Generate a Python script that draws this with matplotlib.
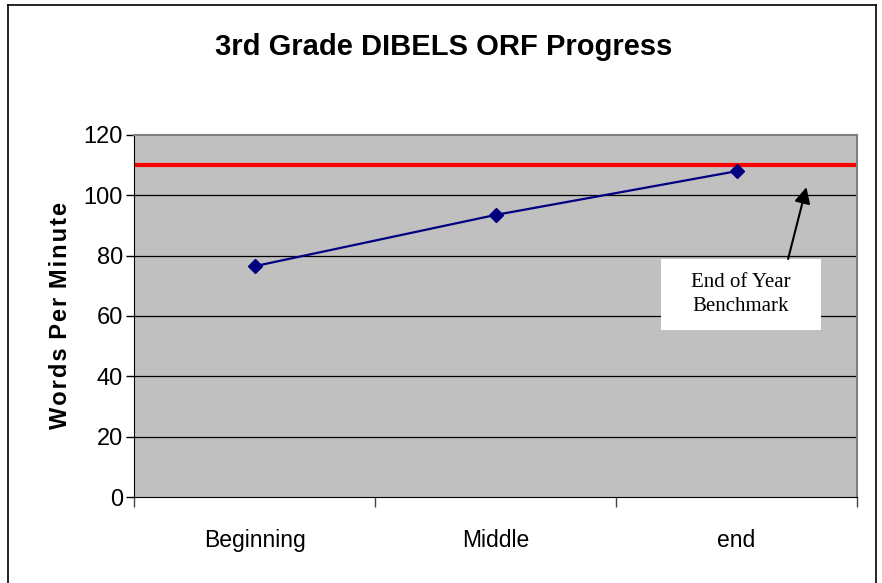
import matplotlib
matplotlib.use("Agg")
import matplotlib.pyplot as plt
from matplotlib.lines import Line2D
from matplotlib.patches import Rectangle

# data
periods = ["Beginning", "Middle", "end"]
wpm = [76.5, 93.5, 108]
benchmark = 110
y_ticks = [0, 20, 40, 60, 80, 100, 120]

plt.rcParams['font.family'] = ['Liberation Sans', 'DejaVu Sans']

fig = plt.figure(figsize=(8.82, 5.83), dpi=100)
ax = fig.add_axes([134 / 882, 1 - 497 / 583, 723 / 882, 362 / 583])

ax.set_facecolor("#C0C0C0")
x = list(range(len(periods)))

# gridlines
for t in y_ticks[1:-1]:
    ax.axhline(t, color="black", lw=0.9, zorder=1)

ax.axhline(benchmark, color="#FF0000", lw=3, zorder=2)
ax.plot(x, wpm, color="#000080", lw=1.6, marker="D", markersize=7,
        markerfacecolor="#000080", markeredgecolor="#000080", zorder=3)

ax.set_xlim(-0.5, len(periods) - 0.5)
ax.set_ylim(0, 120)
ax.set_yticks(y_ticks)
ax.set_yticklabels([str(t) for t in y_ticks], fontsize=17)
ax.tick_params(axis="y", direction="out", length=6, width=1, pad=2)

# category labels between ticks
ax.set_xticks([-0.5, 0.5, 1.5, 2.5])
ax.set_xticklabels([])
ax.tick_params(axis="x", direction="out", length=7, width=1, color="#444444")
for xi, lab in zip(x, periods):
    ax.text(xi, -0.12, lab, transform=ax.get_xaxis_transform(),
            ha="center", va="center", fontsize=16.5)

for side in ["top", "right"]:
    ax.spines[side].set_color("#808080")
    ax.spines[side].set_linewidth(1.5)
ax.spines["left"].set_color("black")
ax.spines["bottom"].set_color("black")

hs = "\u200a"
ylab = hs.join("Words Per Minute").replace(hs + " " + hs, " " + hs)
ax.set_ylabel(ylab, fontsize=17, fontweight="bold", labelpad=8)

fig.text(444 / 882, 1 - 47 / 583, "3rd Grade DIBELS ORF Progress",
         ha="center", va="center", fontsize=21, fontweight="bold")

# benchmark annotation
ax.add_patch(Rectangle((1.687, 55.4), 0.664, 23.5, fc="white", ec="none",
                       zorder=4))
ax.text(2.019, 67.0, "End of Year\nBenchmark", ha="center", va="center",
        fontsize=15, family="Liberation Serif", linespacing=1.35, zorder=5)
ax.annotate("", xy=(2.29, 102.7), xytext=(2.214, 78.9),
            arrowprops=dict(arrowstyle="-|>", color="black", lw=1.5,
                            mutation_scale=24, shrinkA=0, shrinkB=0),
            zorder=5)

# outer chart frame
fw = fig.transFigure
for xs, ys in [([8 / 882, 8 / 882], [0, 1 - 5 / 583]),
               ([876 / 882, 876 / 882], [0, 1 - 5 / 583]),
               ([8 / 882, 876 / 882], [1 - 5 / 583, 1 - 5 / 583])]:
    fig.add_artist(Line2D(xs, ys, transform=fw, color="black", lw=1.2))

fig.savefig("out.png", dpi=100)
